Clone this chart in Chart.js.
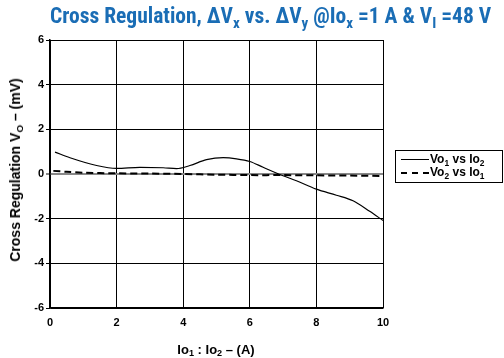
<!DOCTYPE html>
<html>
<head>
<meta charset="utf-8">
<script src="https://cdn.jsdelivr.net/npm/chart.js@4"></script>
<style>
    html, body { margin: 0; padding: 0; background: #fff; }
    #wrap { position: relative; width: 504px; height: 358px; overflow: hidden; font-family: "Liberation Sans", Arial, sans-serif; }
    canvas { position: absolute; left: 0; top: 0; }
    .title { position: absolute; left: 50px; top: 3px; white-space: nowrap; color: #1a6db5; font-family: "Liberation Sans Narrow", "Roboto Condensed", "Liberation Sans", sans-serif; font-weight: bold; font-size: 21.5px; }
    .title sub, .axis sub, .legend sub { font-size: 70%; vertical-align: -0.3em; line-height: 0; }
    .axis { position: absolute; font-weight: bold; font-size: 13px; color: #000; white-space: nowrap; }
    .ytitle { left: 15px; top: 170px; font-size: 14px; transform: translate(-50%, -50%) rotate(-90deg); }
    .xtitle { left: 216px; top: 349px; transform: translate(-50%, -50%); }
    .legend { position: absolute; left: 395px; top: 150px; width: 108px; height: 33px; border: 1px solid #000; box-sizing: border-box; font-weight: bold; font-size: 12px; }
    .legend .row { position: absolute; left: 5px; white-space: nowrap; line-height: 13px; }
    .legend .ln { display: inline-block; width: 28px; margin-right: 1px; vertical-align: middle; }
</style>
</head>
<body>
<div id="wrap">
    <canvas id="chart" width="504" height="358"></canvas>
    <div class="title">Cross Regulation, &Delta;V<sub>x</sub> vs. &Delta;V<sub>y</sub> @Io<sub>x</sub> =1 A &amp; V<sub>I</sub> =48 V</div>
    <div class="axis ytitle">Cross Regulation V<sub>O</sub> &ndash; (mV)</div>
    <div class="axis xtitle">Io<sub>1</sub> : Io<sub>2</sub> &ndash; (A)</div>
    <div class="legend">
        <div class="row" style="top:2px"><span class="ln" style="border-top:1px solid #000"></span>Vo<sub>1</sub> vs Io<sub>2</sub></div>
        <div class="row" style="top:15px"><span class="ln" style="border-top:2px dashed #000"></span>Vo<sub>2</sub> vs Io<sub>1</sub></div>
    </div>
</div>
<script>
// Vo1 vs Io2 (solid)
const vo1X = [0.15, 0.6, 1.4, 2.0, 2.7, 3.4, 3.8, 4.2, 4.7, 5.2, 5.6, 6.0, 6.4, 7.0, 7.4, 8.0, 8.6, 9.1, 9.6, 10.0];
const vo1Y = [0.98, 0.73, 0.38, 0.25, 0.3, 0.28, 0.24, 0.38, 0.64, 0.73, 0.68, 0.56, 0.3, -0.08, -0.3, -0.68, -0.95, -1.2, -1.67, -2.08];

// Vo2 vs Io1 (dashed)
const vo2X = [0.1, 0.5, 1.0, 2.0, 3.0, 4.0, 5.0, 6.0, 7.0, 8.0, 9.0, 10.0];
const vo2Y = [0.14, 0.1, 0.06, 0.03, 0.02, 0.0, -0.03, -0.05, -0.05, -0.06, -0.07, -0.09];

const xTicks = [0, 2, 4, 6, 8, 10];
const yTicks = [-6, -4, -2, 0, 2, 4, 6];

function toPoints(xs, ys) {
    return xs.map((x, i) => ({ x: x, y: ys[i] }));
}

const tickFont = { family: '"Liberation Sans", Arial, sans-serif', size: 11, weight: 'bold' };

new Chart(document.getElementById('chart'), {
    type: 'line',
    data: {
        datasets: [{
            label: 'Vo1 vs Io2',
            data: toPoints(vo1X, vo1Y),
            borderColor: '#000',
            borderWidth: 1.2,
            pointRadius: 0,
            cubicInterpolationMode: 'monotone'
        }, {
            label: 'Vo2 vs Io1',
            data: toPoints(vo2X, vo2Y),
            borderColor: '#000',
            borderWidth: 2,
            borderDash: [7, 4],
            pointRadius: 0,
            tension: 0.3
        }]
    },
    options: {
        responsive: false,
        animation: false,
        layout: { padding: { top: 40, right: 121, left: 0, bottom: 0 } },
        plugins: { legend: { display: false }, tooltip: { enabled: false } },
        scales: {
            x: {
                type: 'linear',
                min: 0,
                max: 10,
                afterBuildTicks: (s) => { s.ticks = xTicks.map(v => ({ value: v })); },
                afterFit: (s) => { s.height = 50; },
                ticks: { font: tickFont, color: '#000', padding: 8 },
                grid: { color: '#000', lineWidth: 1, drawTicks: false },
                border: { color: '#000', width: 1.5 }
            },
            y: {
                min: -6,
                max: 6,
                afterBuildTicks: (s) => { s.ticks = yTicks.map(v => ({ value: v })); },
                afterFit: (s) => { s.width = 50; },
                ticks: { font: tickFont, color: '#000', padding: 2 },
                grid: {
                    color: (ctx) => ctx.tick && ctx.tick.value === 0 ? '#888' : '#000',
                    lineWidth: (ctx) => ctx.tick && ctx.tick.value === 0 ? 2 : 1,
                    tickLength: 4
                },
                border: { color: '#000', width: 1.5 }
            }
        }
    }
});
</script>
</body>
</html>
